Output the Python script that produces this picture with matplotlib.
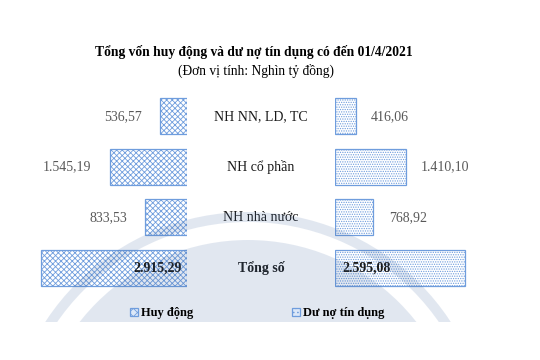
import matplotlib
matplotlib.use('Agg')
import matplotlib.pyplot as plt
import matplotlib.transforms as mtransforms
from matplotlib.patches import Patch, Circle, Wedge, Rectangle

plt.rcParams['font.family'] = ['Liberation Serif', 'DejaVu Serif']
plt.rcParams['hatch.linewidth'] = 0.6

# data
categories = ['NH NN, LD, TC', 'NH cổ phần', 'NH nhà nước', 'Tổng số']
huy_dong = [536.57, 1545.19, 833.53, 2915.29]
du_no = [416.06, 1410.10, 768.92, 2595.08]
huy_dong_lbl = ['536,57', '1.545,19', '833,53', '2.915,29']
du_no_lbl = ['416,06', '1.410,10', '768,92', '2.595,08']

W, H = 540, 360
fig = plt.figure(figsize=(W / 100, H / 100), dpi=100)
fig.patch.set_facecolor('white')

edge = '#6f9ddd'
grey = '#595959'
fs = 10

# rows from y=91 to y=293 px
bot = (H - 293) / H
hgt = 202 / H
axL = fig.add_axes([0, bot, 187 / W, hgt])
axR = fig.add_axes([335 / W, bot, 205 / W, hgt])

ypos = list(range(len(categories)))
for ax in (axL, axR):
    ax.set_ylim(len(categories) - 0.5, -0.5)
    ax.axis('off')
axL.set_xlim(187 * 20, 0)
axR.set_xlim(0, 205 * 20)

axL.barh(ypos, huy_dong, height=0.72, color='white', edgecolor=edge,
         hatch='xxxxxx', linewidth=0.9)
axR.barh(ypos, du_no, height=0.72, color='white', edgecolor=edge,
         hatch='.......', linewidth=0.9)

n = len(categories)
for i in range(n):
    if i < n - 1:
        axL.annotate(huy_dong_lbl[i], (huy_dong[i], i), xytext=(-13, 0),
                     textcoords='offset points', ha='right', va='center',
                     fontsize=fs, color=grey)
        axR.annotate(du_no_lbl[i], (du_no[i], i), xytext=(11, 0),
                     textcoords='offset points', ha='left', va='center',
                     fontsize=fs, color=grey)
    else:
        axL.annotate(huy_dong_lbl[i], (0, i), xytext=(-4, 0),
                     textcoords='offset points', ha='right', va='center',
                     fontsize=fs, color='#1a1a1a', fontweight='bold')
        axR.annotate(du_no_lbl[i], (0, i), xytext=(5, 0),
                     textcoords='offset points', ha='left', va='center',
                     fontsize=fs, color='#1a1a1a', fontweight='bold')

trans = mtransforms.blended_transform_factory(fig.transFigure, axL.transData)
for i, c in enumerate(categories):
    fig.text(261 / W, i, c, transform=trans, ha='center', va='center',
             fontsize=fs, color='#1a1a1a',
             fontweight='bold' if i == n - 1 else 'normal')

fig.text(254 / W, 1 - 52 / H, 'Tổng vốn huy động và dư nợ tín dụng có đến 01/4/2021',
         ha='center', va='center', fontsize=9.75, fontweight='bold')
fig.text(256 / W, 1 - 71 / H, '(Đơn vị tính: Nghìn tỷ đồng)',
         ha='center', va='center', fontsize=9.75)

h1 = Patch(facecolor='#dce8f8', edgecolor=edge, hatch='xxxx', linewidth=0.9, label='Huy động')
h2 = Patch(facecolor='#dce8f8', edgecolor=edge, hatch='....', linewidth=0.9, label='Dư nợ tín dụng')
for h, x in ((h1, 130), (h2, 292)):
    leg = fig.legend(handles=[h], loc='center left', bbox_to_anchor=(x / W, 1 - 313 / H),
                     frameon=False, handlelength=0.6, handleheight=0.6,
                     handletextpad=0.25, borderpad=0, borderaxespad=0,
                     prop={'weight': 'bold', 'size': 9})

# faint logo watermark over the lower part
ov = fig.add_axes([0, 0, 1, 1], zorder=5)
ov.set_xlim(0, W)
ov.set_ylim(H, 0)
ov.axis('off')
ov.patch.set_alpha(0)
clip = Rectangle((0, 0), W, 322, transform=ov.transData)
wm = '#3c64a0'
ring = Wedge((248, 454), 242, 0, 360, width=10, facecolor=wm, edgecolor='none', alpha=0.15)
disk = Circle((248, 454), 214, facecolor=wm, edgecolor='none', alpha=0.15)
for p in (ring, disk):
    ov.add_patch(p)
    p.set_clip_path(clip)

fig.savefig('out.png', dpi=100)
